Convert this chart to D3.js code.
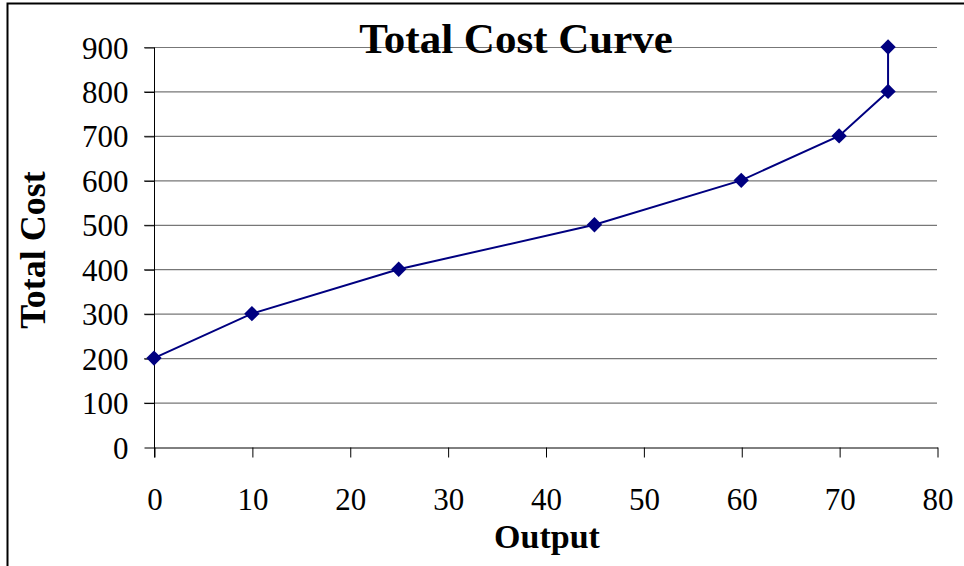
<!DOCTYPE html>
<html><head><meta charset="utf-8">
<script src="https://cdn.jsdelivr.net/npm/d3@7"></script>
<style>body{margin:0;background:#fff}svg{display:block}</style>
</head><body>
<script>
const output = [0, 10, 25, 45, 60, 70, 75, 75];
const totalCost = [200, 300, 400, 500, 600, 700, 800, 900];
const xTicks = [0, 10, 20, 30, 40, 50, 60, 70, 80];
const yTicks = [0, 100, 200, 300, 400, 500, 600, 700, 800, 900];
const title = "Total Cost Curve";
const xTitle = "Output";
const yTitle = "Total Cost";

const W = 964, H = 566;
const svg = d3.select("body").append("svg").attr("width", W).attr("height", H);
const font = "'Liberation Serif', 'Times New Roman', serif";

svg.append("rect").attr("x", 7.5).attr("y", 3.5).attr("width", 1000).attr("height", 1000)
  .attr("fill", "#fff").attr("stroke", "#000").attr("stroke-width", 2);

const x = d3.scaleLinear().domain([0, 80]).range([154, 937]);
const y = d3.scaleLinear().domain([0, 900]).range([447, 47]);

// gridlines
svg.append("g").selectAll("line").data(yTicks.filter(d => d > 0)).join("line")
  .attr("x1", 144).attr("x2", 937).attr("y1", d => y(d) + 0.5).attr("y2", d => y(d) + 0.5)
  .attr("stroke", "#777").attr("stroke-width", 1.2);

// y axis
const yAxis = d3.axisLeft(y).tickValues(yTicks).tickSize(10).tickPadding(16);
const gy = svg.append("g").attr("transform", "translate(154.5,0.5)").call(yAxis);
gy.select(".domain").remove();
gy.append("line").attr("x1", 0).attr("x2", 0).attr("y1", y(900)).attr("y2", y(0) + 10).attr("stroke", "#000");
gy.selectAll(".tick line").attr("stroke", "#000");
gy.selectAll(".tick text").attr("font-family", font).attr("font-size", 31).attr("fill", "#000").attr("dy", "0.34em");

// x axis
const xAxis = d3.axisBottom(x).tickValues(xTicks).tickSize(10).tickPadding(30).tickSizeOuter(0);
const gx = svg.append("g").attr("transform", "translate(0.5," + (y(0) + 0.5) + ")").call(xAxis);
gx.select(".domain").attr("stroke", "#000");
gx.selectAll(".tick line").attr("stroke", "#000");
gx.selectAll(".tick text").attr("font-family", font).attr("font-size", 31).attr("fill", "#000");

const pts = output.map((d, i) => [x(d), y(totalCost[i])]);
svg.append("path").attr("d", d3.line()(pts)).attr("fill", "none").attr("stroke", "#000080").attr("stroke-width", 2);
svg.append("g").selectAll("path").data(pts).join("path")
  .attr("transform", d => `translate(${d[0]},${d[1]})`)
  .attr("d", d3.symbol(d3.symbolDiamond2, 150)())
  .attr("fill", "#000080");

svg.append("text").attr("x", 516).attr("y", 53).attr("text-anchor", "middle")
  .attr("font-family", font).attr("font-weight", "bold").attr("font-size", 43).attr("fill", "#000").text(title);
svg.append("text").attr("x", 547).attr("y", 548).attr("text-anchor", "middle")
  .attr("font-family", font).attr("font-weight", "bold").attr("font-size", 34).attr("fill", "#000").text(xTitle);
svg.append("text").attr("transform", "translate(45,250) rotate(-90)").attr("text-anchor", "middle")
  .attr("font-family", font).attr("font-weight", "bold").attr("font-size", 36).attr("fill", "#000").text(yTitle);
</script>
</body></html>
